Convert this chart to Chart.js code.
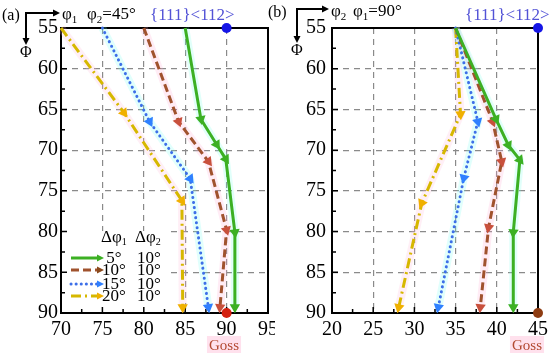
<!DOCTYPE html>
<html>
<head>
<meta charset="utf-8">
<script src="https://cdn.jsdelivr.net/npm/chart.js@4"></script>
<style>
body { margin: 0; background: #fff; width: 550px; height: 354px; position: relative; overflow: hidden; }
canvas { position: absolute; top: 0; }
#ca { left: 0; }
#cb { left: 275px; }
#lb { position: absolute; left: 268px; top: 3px; font: 16px 'Liberation Serif'; }
</style>
</head>
<body>
<canvas id="ca" width="275" height="354"></canvas>
<canvas id="cb" width="275" height="354"></canvas>
<div id="lb">(b)</div>
<script>
// panel (a): phi2 = 45°, x axis is phi1, y axis is Phi
var aPhi5 = [55, 66.2, 69.3, 71.1, 80.1, 89.3];
var aX5 = [85, 86.9, 88.8, 89.9, 91.0, 91.0];
var aPhi10 = [55, 66.5, 71.4, 79.8, 89.3];
var aX10 = [80, 84.2, 87.8, 90.0, 89.2];
var aPhi15 = [55, 66.5, 73.5, 89.3];
var aX15 = [75, 80.7, 85.6, 87.8];
var aPhi20 = [55, 65.4, 76.2, 89.3];
var aX20 = [70, 77.6, 84.6, 84.7];

// panel (b): phi1 = 90°, x axis is phi2
var bPhi5 = [55, 66.2, 69.4, 71.2, 80.1, 89.3];
var bX5 = [35, 39.9, 41.4, 42.8, 42.0, 42.0];
var bPhi10 = [55, 66.5, 71.4, 79.5, 89.3];
var bX10 = [35, 39.5, 40.6, 39.0, 38.0];
var bPhi15 = [55, 66.5, 73.4, 89.3];
var bX15 = [35, 37.7, 36.0, 32.9];
var bPhi20 = [55, 65.6, 76.5, 89.3];
var bX20 = [35, 35.6, 30.9, 28.1];

// reference orientations
var aGoss = [90, 90];
var a111 = [90, 55];
var bGoss = [45, 90];
var b111 = [45, 55];

// legend
var dPhi1 = ['5°', '10°', '15°', '20°'];
var dPhi2 = ['10°', '10°', '10°', '10°'];

var SERIF = "'Liberation Serif', 'Times New Roman', serif";

var styles = [
    { line: '#3cb023', mark: '#3cb023', glow: 'rgba(120,255,230,0.22)', dash: [], cap: 'butt' },
    { line: '#a0522d', mark: '#c8503c', glow: 'rgba(255,170,210,0.22)', dash: [8, 4], cap: 'butt' },
    { line: '#3d6fe8', mark: '#2f80ff', glow: 'rgba(120,255,240,0.22)', dash: [0.1, 5], cap: 'round' },
    { line: '#d6b800', mark: '#f0b000', glow: 'rgba(255,180,215,0.22)', dash: [10, 4, 2, 4], cap: 'butt' }
];

function pts(xs, ys) {
    var out = [];
    for (var i = 0; i < xs.length; i++) out.push({ x: xs[i], y: ys[i] });
    return out;
}

function arrowRot(ctx) {
    var i = ctx.dataIndex;
    if (!i) return 0;
    var ch = ctx.chart, d = ctx.dataset.data;
    var sx = ch.scales.x, sy = ch.scales.y;
    var dx = sx.getPixelForValue(d[i].x) - sx.getPixelForValue(d[i - 1].x);
    var dy = sy.getPixelForValue(d[i].y) - sy.getPixelForValue(d[i - 1].y);
    return Math.atan2(dx, -dy) * 180 / Math.PI;
}

function buildDatasets(series, goss, s111, gossColor) {
    var ds = [];
    series.forEach(function (s, k) {
        var st = styles[k];
        var data = pts(s[0], s[1]);
        ds.push({
            data: data, borderColor: st.line, backgroundColor: st.mark,
            borderWidth: 3, borderDash: st.dash, borderCapStyle: st.cap,
            pointStyle: 'triangle', pointRotation: arrowRot,
            pointRadius: function (c) { return c.dataIndex ? 6 : 0; },
            pointBorderWidth: 0, clip: false, order: 2
        });
        ds.push({
            data: data, borderColor: st.glow, borderWidth: 8, pointRadius: 0,
            clip: false, order: 10
        });
    });
    ds.push({ data: [{ x: goss[0], y: goss[1] }], pointRadius: 5, backgroundColor: gossColor,
        pointBorderWidth: 0, showLine: false, clip: false, order: 0 });
    ds.push({ data: [{ x: s111[0], y: s111[1] }], pointRadius: 5, backgroundColor: '#1515e6',
        pointBorderWidth: 0, showLine: false, clip: false, order: 0 });
    return ds;
}

function arrowHead(ctx, x, y, ang) {
    ctx.save();
    ctx.translate(x, y);
    ctx.rotate(ang);
    ctx.beginPath();
    ctx.moveTo(0, 0);
    ctx.lineTo(-7, -3.5);
    ctx.lineTo(-7, 3.5);
    ctx.closePath();
    ctx.fill();
    ctx.restore();
}

function parts(ctx, list, x, y) {
    list.forEach(function (p) {
        ctx.font = p[1] + 'px ' + SERIF;
        ctx.fillText(p[0], x, y + (p[2] || 0));
        x += ctx.measureText(p[0]).width;
    });
    return x;
}

// frame, inward ticks and (for panel a) the legend box
var framePlugin = {
    id: 'frame',
    beforeDatasetsDraw: function (chart, args, opts) {
        var c = chart.ctx, a = chart.chartArea;
        var sx = chart.scales.x, sy = chart.scales.y;
        c.save();
        if (opts.legend) {
            c.fillStyle = '#fff';
            c.fillRect(a.left + 1, 231, 105, a.bottom - 231);
            var rows = [258, 270, 284, 296];
            c.textBaseline = 'middle';
            c.fillStyle = '#000';
            c.textAlign = 'left';
            parts(c, [['Δφ', 17], ['1', 10, 4]], 101, 238);
            parts(c, [['Δφ', 17], ['2', 10, 4]], 135, 238);
            rows.forEach(function (y, k) {
                var st = styles[k];
                c.strokeStyle = st.line;
                c.lineWidth = 3;
                c.lineCap = st.cap;
                c.setLineDash(st.dash);
                c.beginPath();
                c.moveTo(71, y);
                c.lineTo(97, y);
                c.stroke();
                c.setLineDash([]);
                c.fillStyle = k === 1 ? '#8b4a1c' : st.mark;
                arrowHead(c, 104, y, 0);
                c.fillStyle = '#000';
                c.font = '17px ' + SERIF;
                c.textAlign = 'center';
                c.fillText(dPhi1[k], 114, y + 1);
                c.fillText(dPhi2[k], 149, y + 1);
                c.textAlign = 'left';
            });
        }
        c.strokeStyle = '#000';
        c.lineWidth = 1.5;
        c.setLineDash([]);
        c.beginPath();
        for (var v = sx.min; v <= sx.max; v += 2.5) {
            var px = sx.getPixelForValue(v);
            var len = (v % 5 === 0) ? 6 : 4;
            c.moveTo(px, a.bottom);
            c.lineTo(px, a.bottom - len);
        }
        for (var w = sy.min; w <= sy.max; w += 2.5) {
            var py = sy.getPixelForValue(w);
            var l2 = (w % 5 === 0) ? 6 : 4;
            c.moveTo(a.left, py);
            c.lineTo(a.left + l2, py);
        }
        c.stroke();
        c.lineWidth = 2;
        c.strokeRect(a.left, a.top, a.right - a.left, a.bottom - a.top);
        c.restore();
    },
    afterDraw: function (chart, args, opts) {
        var c = chart.ctx, h = opts.head;
        c.save();
        c.strokeStyle = '#000';
        c.fillStyle = '#000';
        c.lineWidth = 2;
        c.beginPath();
        c.moveTo(h.cx + 1, h.cy);
        c.lineTo(h.ax - 4, h.cy);
        c.moveTo(h.cx, h.cy - 1);
        c.lineTo(h.cx, h.ay - 4);
        c.stroke();
        arrowHead(c, h.ax, h.cy, 0);
        arrowHead(c, h.cx, h.ay, Math.PI / 2);
        c.textBaseline = 'alphabetic';
        if (h.tag) {
            c.font = '16px ' + SERIF;
            c.fillText(h.tag, 2, 20);
        }
        parts(c, [['Φ', 16]], h.phiX, h.phiY);
        parts(c, h.t1, h.t1x, h.ty);
        parts(c, h.t2, h.t2x, h.ty);
        c.fillStyle = '#5252d6';
        c.font = '17px ' + SERIF;
        c.fillText('{111}<112>', h.sx, 20);
        c.font = '15px ' + SERIF;
        var gw = c.measureText('Goss').width;
        c.fillStyle = 'rgba(255,205,225,0.6)';
        c.fillRect(h.gx - gw / 2 - 2, 336, gw + 4, 17);
        c.fillStyle = '#b34a32';
        c.textAlign = 'center';
        c.fillText('Goss', h.gx, 350);
        c.restore();
    }
};

function makeChart(id, series, goss, s111, gossColor, xmin, xmax, yw, yPad, padRight, head, legend) {
    var ctx = document.getElementById(id).getContext('2d');
    var gridColor = function (c) {
        var v = c.tick ? c.tick.value : null;
        return (v === c.scale.min || v === c.scale.max) ? 'rgba(0,0,0,0)' : '#8a8a8a';
    };
    return new Chart(ctx, {
        type: 'line',
        data: { datasets: buildDatasets(series, goss, s111, gossColor) },
        options: {
            responsive: false,
            animation: false,
            devicePixelRatio: 1,
            layout: { padding: { top: 28, right: padRight, left: 0, bottom: 0 } },
            plugins: {
                legend: { display: false },
                tooltip: { enabled: false },
                frame: { legend: legend, head: head }
            },
            scales: {
                x: {
                    type: 'linear', min: xmin, max: xmax,
                    ticks: { stepSize: 5, color: '#000', padding: 5, maxRotation: 0, autoSkip: false,
                        font: { family: SERIF, size: 20 } },
                    grid: { color: gridColor, lineWidth: 1.2, drawTicks: false },
                    border: { display: false, dash: [6, 5] },
                    afterFit: function (s) { s.height = 41; s.paddingLeft = 0; s.paddingRight = 0; }
                },
                y: {
                    type: 'linear', min: 55, max: 90, reverse: true,
                    ticks: { stepSize: 5, color: '#000', padding: yPad, autoSkip: false,
                        font: { family: SERIF, size: 20 } },
                    grid: { color: gridColor, lineWidth: 1.2, drawTicks: false },
                    border: { display: false, dash: [6, 5] },
                    afterFit: function (s) { s.width = yw; s.paddingTop = 0; s.paddingBottom = 0; }
                }
            }
        },
        plugins: [framePlugin]
    });
}

var chartA = makeChart('ca',
    [[aX5, aPhi5], [aX10, aPhi10], [aX15, aPhi15], [aX20, aPhi20]],
    aGoss, a111, '#d4200f', 70, 95, 61, 3, 7,
    { tag: '(a)', cx: 26, cy: 13, ax: 60, ay: 45, phiX: 20, phiY: 57,
      t1: [['φ', 17], ['1', 11, 4]], t1x: 62,
      t2: [['φ', 17], ['2', 11, 4], ['=45°', 17]], t2x: 87, ty: 19,
      sx: 150, gx: 224 }, true);

var chartB = makeChart('cb',
    [[bX5, bPhi5], [bX10, bPhi10], [bX15, bPhi15], [bX20, bPhi20]],
    bGoss, b111, '#8e3c12', 20, 45, 57, 6, 12,
    { tag: '', cx: 22, cy: 9, ax: 54, ay: 43, phiX: 16, phiY: 55,
      t1: [['φ', 17], ['2', 11, 4]], t1x: 56,
      t2: [['φ', 17], ['1', 11, 4], ['=90°', 17]], t2x: 78, ty: 16,
      sx: 190, gx: 252 }, false);
</script>
</body>
</html>
